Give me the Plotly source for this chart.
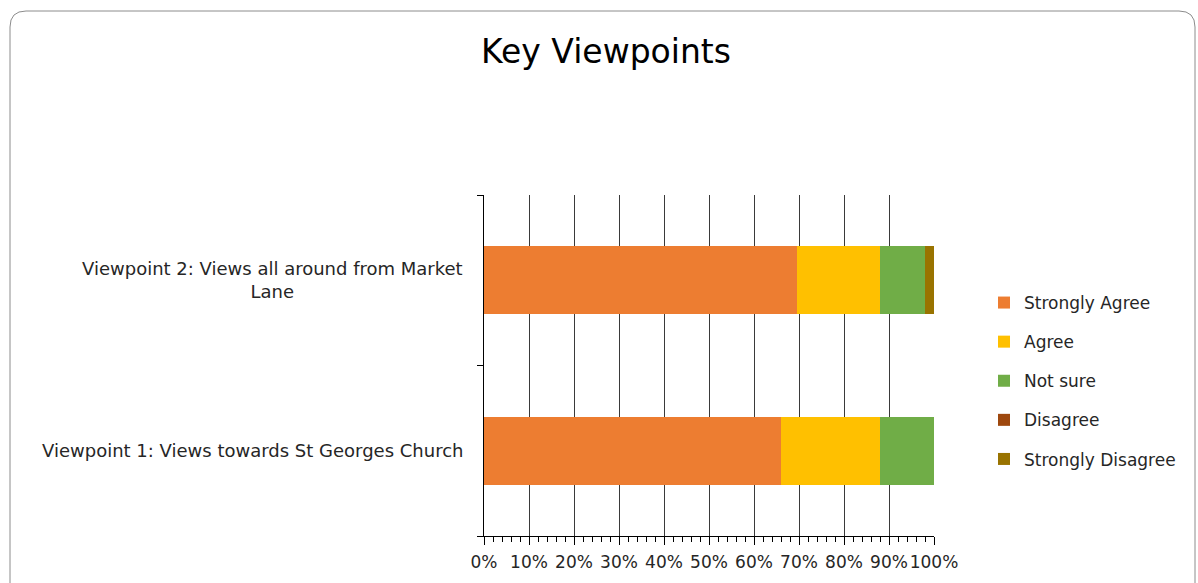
import plotly.graph_objects as go

categories = ["Viewpoint 1: Views towards St Georges Church",
              "Viewpoint 2: Views all around from Market Lane"]
label_text = ["Viewpoint 1: Views towards St Georges Church",
              "Viewpoint 2: Views all around from Market<br>Lane"]
series_names = ["Strongly Agree", "Agree", "Not sure", "Disagree", "Strongly Disagree"]
strongly_agree = [0.661, 0.695]
agree = [0.220, 0.184]
not_sure = [0.119, 0.100]
disagree = [0.0, 0.0]
strongly_disagree = [0.0, 0.021]
colors = ["#ED7D31", "#FFC000", "#70AD47", "#9E480E", "#997300"]
x_ticks = [0, 0.1, 0.2, 0.3, 0.4, 0.5, 0.6, 0.7, 0.8, 0.9, 1.0]
x_tick_labels = ["0%", "10%", "20%", "30%", "40%", "50%", "60%", "70%", "80%", "90%", "100%"]

FONT = "DejaVu Sans"
series_values = [strongly_agree, agree, not_sure, disagree, strongly_disagree]

fig = go.Figure()
for i, (name, vals) in enumerate(zip(series_names, series_values)):
    fig.add_trace(go.Bar(
        y=categories, x=vals, name=name, orientation="h",
        marker=dict(color=colors[i], line=dict(width=0)),
        legendgroup=name, hoverinfo="x+name",
    ))

# plot area in px
L, R, T, B = 484, 934, 195, 536
W, H = 1198, 583
pw, ph = R - L, B - T

def px(xp):
    return (xp - L) / pw
def py(yp):
    return (B - yp) / ph

for cat, txt in zip(categories, label_text):
    fig.add_annotation(x=px(465), xref="paper", y=cat, yref="y",
                       text=txt, showarrow=False, xanchor="right", align="center",
                       font=dict(family=FONT, size=18, color="#262626"))

# rounded border
x0, x1, y0, y1 = px(10), px(1195), py(11), py(600)
rx, ry = 16 / pw, 16 / ph
path = (f"M {x0+rx},{y0} L {x1-rx},{y0} Q {x1},{y0} {x1},{y0-ry} "
        f"L {x1},{y1} L {x0},{y1} L {x0},{y0-ry} Q {x0},{y0} {x0+rx},{y0} Z")
fig.add_shape(type="path", path=path, xref="paper", yref="paper",
              line=dict(color="#8c8c8c", width=1), layer="below")

fig.update_layout(
    width=W, height=H, autosize=False,
    margin=dict(l=L, r=W - R, t=T, b=H - B, pad=0, autoexpand=False),
    barmode="stack", bargap=0.6,
    paper_bgcolor="white", plot_bgcolor="white",
    title=dict(text="Key Viewpoints", x=606 / W, xanchor="center", y=1 - 51 / H, yanchor="middle",
               font=dict(family=FONT, size=33, color="#000000")),
    font=dict(family=FONT, size=17, color="#262626"),
    showlegend=True,
    legend=dict(x=px(984), xanchor="left", y=py(285), yanchor="top",
                traceorder="grouped", tracegroupgap=14,
                font=dict(family=FONT, size=17, color="#262626"),
                itemwidth=30, bgcolor="rgba(0,0,0,0)"),
    xaxis=dict(range=[0, 1], tickvals=x_ticks, ticktext=x_tick_labels,
               tickangle=0, automargin=False,
               showgrid=True, gridcolor="#3a3a3a", gridwidth=1,
               showline=True, linecolor="#000000", linewidth=1,
               ticks="outside", ticklen=8, tickcolor="#000000",
               minor=dict(dtick=0.02, ticks="outside", ticklen=5, tickcolor="#000000", showgrid=False),
               tickfont=dict(family=FONT, size=17, color="#262626"),
               ticklabelstandoff=3,
               zeroline=False, fixedrange=True),
    yaxis=dict(showticklabels=False, showline=True, linecolor="#000000", linewidth=1,
               automargin=False,
               ticks="outside", ticklen=6, tickcolor="#000000", tickson="boundaries",
               showgrid=False, zeroline=False, fixedrange=True),
)

fig.write_html("out.html")
